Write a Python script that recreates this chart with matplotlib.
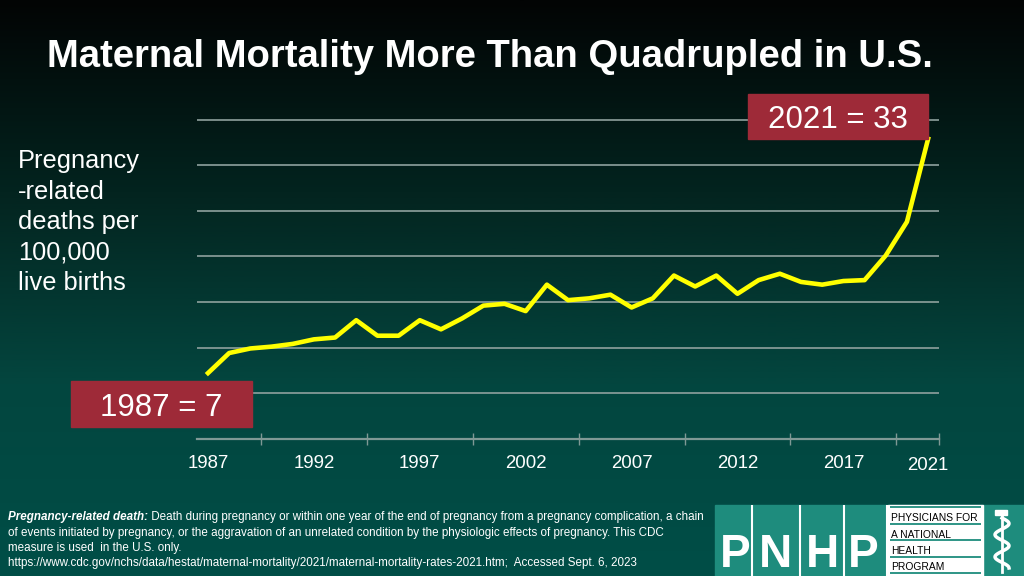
import numpy as np
import matplotlib
matplotlib.use("Agg")
import matplotlib.pyplot as plt
from matplotlib import font_manager
from matplotlib.colors import LinearSegmentedColormap
from matplotlib.patches import Rectangle

# data
years = list(range(1987, 2022))
rates = [7.2, 9.4, 9.9, 10.1, 10.4, 10.9, 11.1, 13.0, 11.3, 11.3,
         13.0, 12.0, 13.2, 14.6, 14.8, 14.0, 16.9, 15.2, 15.4, 15.8,
         14.4, 15.4, 17.9, 16.7, 17.9, 15.9, 17.4, 18.1, 17.2, 16.9,
         17.3, 17.4, 20.1, 23.8, 32.9]
grid_values = [5, 10, 15, 20, 25, 30, 35]
label_years = [1987, 1992, 1997, 2002, 2007, 2012, 2017, 2021]
tick_edges = [1989.5, 1994.5, 1999.5, 2004.5, 2009.5, 2014.5, 2019.5, 2021.5]

title = "Maternal Mortality More Than Quadrupled in U.S."
ylabel_lines = ["Pregnancy", "-related", "deaths per", "100,000", "live births"]
first_label = "1987 = 7"
last_label = "2021 = 33"
note_bold = "Pregnancy-related death:"
note_lines = [
    " Death during pregnancy or within one year of the end of pregnancy from a pregnancy complication, a chain",
    "of events initiated by pregnancy, or the aggravation of an unrelated condition by the physiologic effects of pregnancy. This CDC",
    "measure is used  in the U.S. only.",
    "https://www.cdc.gov/nchs/data/hestat/maternal-mortality/2021/maternal-mortality-rates-2021.htm;  Accessed Sept. 6, 2023",
]
logo_words = ["PHYSICIANS FOR", "A NATIONAL", "HEALTH", "PROGRAM"]

names = {f.name for f in font_manager.fontManager.ttflist}
SANS = "Liberation Sans"
NARROW = "Liberation Sans Narrow" if "Liberation Sans Narrow" in names else SANS

BOX_RED = "#9e2a38"
GRID = "#8fa19e"
TEAL = "#1e8c7d"

W, H = 1024, 576
fig = plt.figure(figsize=(W / 100, H / 100), dpi=100)

# background gradient
bg = fig.add_axes([0, 0, 1, 1])
cmap = LinearSegmentedColormap.from_list("bg", ["#020404", "#03241f", "#03463f", "#004e47"])
bg.imshow(np.linspace(0, 1, 256)[:, None], cmap=cmap, aspect="auto", extent=[0, 1, 0, 1])
bg.axis("off")

# main chart, placed in pixels
x0, x1, y_base, y_top = 197.4, 938.7, 438.7, 119.7
ax = fig.add_axes([x0 / W, (H - y_base) / H, (x1 - x0) / W, (y_base - y_top) / H])
ax.patch.set_alpha(0)
ax.set_xlim(1986.5, 2021.5)
ax.set_ylim(0, 35)
ax.hlines(grid_values, 1986.5, 2021.5, color=GRID, lw=1.2, clip_on=False)
for s in ["top", "left", "right"]:
    ax.spines[s].set_visible(False)
ax.spines["bottom"].set_color("#7f9995")
ax.spines["bottom"].set_linewidth(1.6)
ax.set_yticks([])
ax.set_xticks(tick_edges)
ax.set_xticklabels([])
ax.tick_params(axis="x", direction="inout", length=8, width=1, color="#7f9995")
ax.plot(years, rates, color="#ffff00", lw=3.3, clip_on=False, zorder=3)

xt = ax.get_xaxis_transform()
for yr in label_years:
    base = 470 if yr == 2021 else 468.3
    ax.text(yr, -(base - y_base) / (y_base - y_top), str(yr), transform=xt,
            ha="center", va="baseline", color="white", fontsize=13.4, family=SANS)

# overlay in pixel coordinates
ov = fig.add_axes([0, 0, 1, 1])
ov.set_xlim(0, W)
ov.set_ylim(H, 0)
ov.axis("off")
ov.patch.set_alpha(0)

ov.text(47, 66.7, title, ha="left", va="baseline", color="white",
        fontsize=27.5, fontweight="bold", family=SANS)

for i, line in enumerate(ylabel_lines):
    ov.text(18, 168 + i * 30.6, line, ha="left", va="baseline", color="white",
            fontsize=18.3, family=SANS)

ov.add_patch(Rectangle((748, 94), 180, 45, color=BOX_RED, zorder=5))
ov.text(838, 128.3, last_label, ha="center", va="baseline", color="white",
        fontsize=22.5, family=SANS, zorder=6)
ov.add_patch(Rectangle((71, 381), 181, 46, color=BOX_RED, zorder=5))
ov.text(161, 416, first_label, ha="center", va="baseline", color="white",
        fontsize=22.5, family=SANS, zorder=6)

renderer = fig.canvas.get_renderer()

# footnote, sized so the first line spans the same width as the reference
probe_b = ov.text(0, 0, note_bold, fontsize=10, family=NARROW, fontweight="bold", style="italic")
probe_r = ov.text(0, 0, note_lines[0], fontsize=10, family=NARROW)
w10 = probe_b.get_window_extent(renderer).width + probe_r.get_window_extent(renderer).width
probe_b.remove()
probe_r.remove()
note_size = 10 * 698 / w10

baselines = [520, 536, 551, 566]
tb = ov.text(8, baselines[0], note_bold, ha="left", va="baseline", color="white",
             fontsize=note_size, family=NARROW, fontweight="bold", style="italic")
bw = tb.get_window_extent(renderer).width
ov.text(8 + bw, baselines[0], note_lines[0], ha="left", va="baseline", color="white",
        fontsize=note_size, family=NARROW)
for b, line in zip(baselines[1:], note_lines[1:]):
    ov.text(8, b, line, ha="left", va="baseline", color="white",
            fontsize=note_size, family=NARROW)

# PNHP logo
ov.add_patch(Rectangle((715, 505), 309, 71, color=TEAL, zorder=2))
ov.vlines([751.5, 800, 844, 887], 505, 576, color="white", lw=1.5, zorder=3)
for cx, letter in zip([735, 776, 822, 863], "PNHP"):
    ov.text(cx, 566.7, letter, ha="center", va="baseline", color="white",
            fontsize=33, fontweight="bold", family=NARROW, zorder=4)
ov.add_patch(Rectangle((888, 505), 95, 71, color="white", zorder=3))
ov.hlines([507, 523.5, 540, 556.5, 572.5], 890, 981, color=TEAL, lw=1.3, zorder=4)
for b, word in zip([521, 537.5, 553.5, 569.5], logo_words):
    t = ov.text(891, b, word, ha="left", va="baseline", color="black",
                fontsize=10, family=NARROW, zorder=5)
    if word == logo_words[0]:
        fw = t.get_window_extent(renderer).width
        logo_size = 10 * 87 / fw
    t.set_fontsize(logo_size)

# rod of Asclepius
ov.plot([1002, 1002], [514, 572], color="white", lw=2, zorder=4)
ss = np.linspace(0, 1, 80)
ov.plot(1002 + 7 * np.sin(ss * 4.5 * np.pi), 518 + ss * 50, color="white", lw=2.5, zorder=4)
ov.add_patch(Rectangle((995, 510), 12, 5, color="white", zorder=4))

fig.savefig("out.png", dpi=100)
